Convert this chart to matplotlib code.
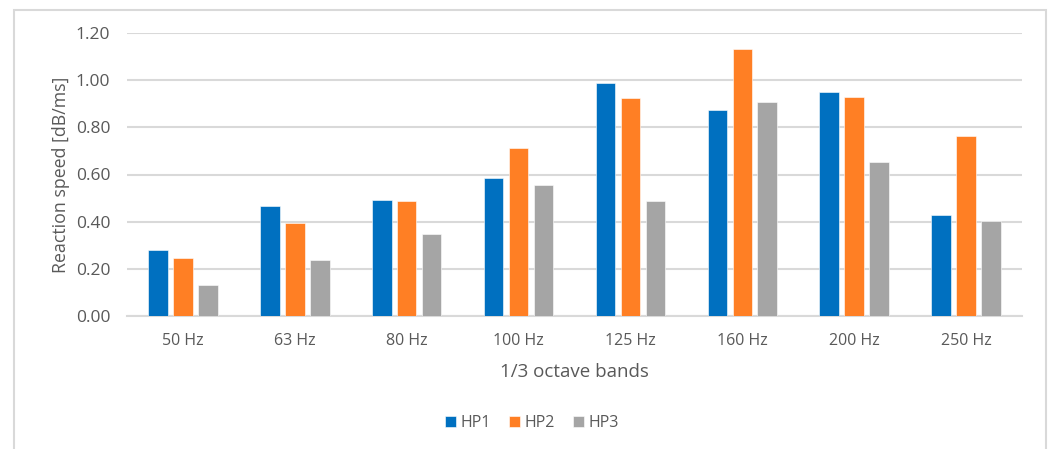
import matplotlib.pyplot as plt
import numpy as np
from matplotlib.patches import Rectangle

plt.rcParams['font.family'] = ['Open Sans', 'DejaVu Sans']

# Reaction speed per 1/3 octave band
bands = ['50 Hz', '63 Hz', '80 Hz', '100 Hz', '125 Hz', '160 Hz', '200 Hz', '250 Hz']
hp1 = [0.28, 0.465, 0.493, 0.584, 0.99, 0.874, 0.949, 0.427]
hp2 = [0.246, 0.396, 0.486, 0.714, 0.923, 1.134, 0.927, 0.762]
hp3 = [0.13, 0.237, 0.349, 0.556, 0.486, 0.906, 0.654, 0.402]

series = [('HP1', hp1, '#0070C0'), ('HP2', hp2, '#FF7F24'), ('HP3', hp3, '#A5A5A5')]

text_col = '#595959'
grid_col = '#D9D9D9'

fig = plt.figure(figsize=(10.51, 4.49), dpi=100)
ax = fig.add_axes([127 / 1051, 1 - 316 / 449, 895 / 1051, 283 / 449])

# outer chart border
fig.patches.append(Rectangle((14 / 1051, -0.1), 1032 / 1051, 1.1 - 10 / 449,
                             transform=fig.transFigure, fill=False,
                             edgecolor=grid_col, linewidth=1.5))

x = np.arange(len(bands))
pitch = 0.223
width = 0.175
for i, (name, vals, col) in enumerate(series):
    ax.bar(x + (i - 1) * pitch, vals, width, color=col, label=name,
           edgecolor='white', linewidth=0.4, zorder=3)

ax.set_xlim(-0.5, len(bands) - 0.5)
ax.set_ylim(0, 1.2)
ax.set_yticks(np.arange(0, 1.21, 0.2))
ax.set_yticklabels([f'{v:.2f}' for v in np.arange(0, 1.21, 0.2)])
ax.set_xticks(x)
ax.set_xticklabels(bands)
ax.yaxis.grid(True, color=grid_col, linewidth=1.5, zorder=0)
ax.set_axisbelow(True)
for s in ['top', 'right', 'left']:
    ax.spines[s].set_visible(False)
ax.spines['bottom'].set_color(grid_col)
ax.spines['bottom'].set_linewidth(1.5)
ax.tick_params(axis='both', length=0, colors=text_col)
ax.tick_params(axis='x', pad=12, labelsize=11.5)
ax.tick_params(axis='y', pad=12, labelsize=12.5)

ax.set_xlabel('1/3 octave bands', fontsize=13.5, color=text_col, labelpad=10)
ax.set_ylabel('Reaction speed [dB/ms]', fontsize=12.8, color=text_col, labelpad=4)

fig.legend(loc='center', bbox_to_anchor=(532 / 1051, 1 - 423 / 449), ncol=3,
           frameon=False, fontsize=11.5, labelcolor=text_col,
           handlelength=0.7, handleheight=0.7, handletextpad=0.3,
           columnspacing=1.1)

fig.savefig('out.png', dpi=100, facecolor='white')
